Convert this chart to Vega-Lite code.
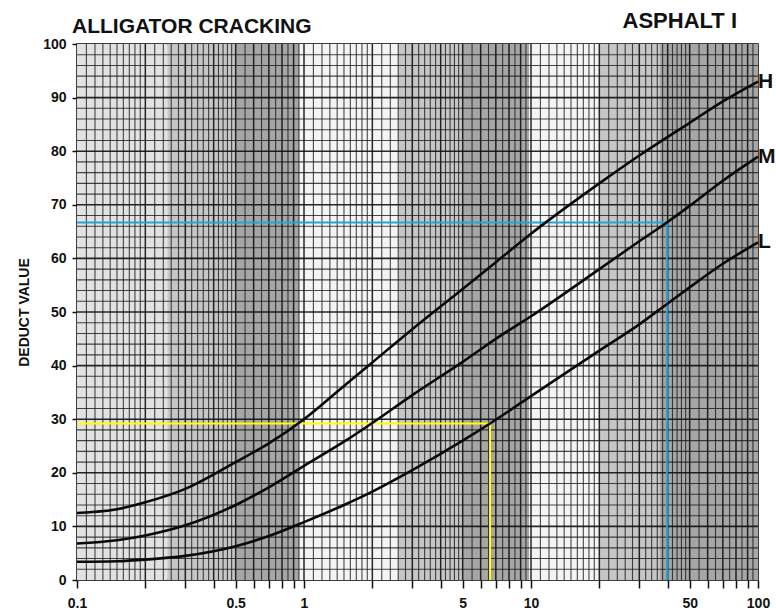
{
  "$schema": "https://vega.github.io/schema/vega-lite/v6.json",
  "width": 681,
  "height": 536,
  "autosize": {"type": "none"},
  "padding": {"left": 77, "top": 44, "right": 18, "bottom": 34},
  "background": "white",
  "config": {
    "view": {"stroke": "black", "strokeWidth": 1.5},
    "font": "Liberation Sans"
  },
  "datasets": {
    "bands": [
      {"x": 0.1, "x2": 0.25, "tone": "light"},
      {"x": 0.25, "x2": 0.5, "tone": "mid"},
      {"x": 0.5, "x2": 0.95, "tone": "dark"},
      {"x": 0.95, "x2": 2.6, "tone": "pale"},
      {"x": 2.6, "x2": 5, "tone": "mid"},
      {"x": 5, "x2": 9.8, "tone": "dark"},
      {"x": 9.8, "x2": 20, "tone": "pale"},
      {"x": 20, "x2": 37, "tone": "mid"},
      {"x": 37, "x2": 100, "tone": "dark"}
    ],
    "vminor": [
      {"v": 0.11}, {"v": 0.12}, {"v": 0.13}, {"v": 0.14}, {"v": 0.15}, {"v": 0.16}, {"v": 0.17}, {"v": 0.18}, {"v": 0.19},
      {"v": 0.22}, {"v": 0.24}, {"v": 0.26}, {"v": 0.28}, {"v": 0.32}, {"v": 0.34}, {"v": 0.36}, {"v": 0.38},
      {"v": 0.42}, {"v": 0.44}, {"v": 0.46}, {"v": 0.48}, {"v": 0.55}, {"v": 0.65}, {"v": 0.75}, {"v": 0.85}, {"v": 0.95},
      {"v": 1.1}, {"v": 1.2}, {"v": 1.3}, {"v": 1.4}, {"v": 1.5}, {"v": 1.6}, {"v": 1.7}, {"v": 1.8}, {"v": 1.9},
      {"v": 2.2}, {"v": 2.4}, {"v": 2.6}, {"v": 2.8}, {"v": 3.2}, {"v": 3.4}, {"v": 3.6}, {"v": 3.8},
      {"v": 4.2}, {"v": 4.4}, {"v": 4.6}, {"v": 4.8}, {"v": 5.5}, {"v": 6.5}, {"v": 7.5}, {"v": 8.5}, {"v": 9.5},
      {"v": 11}, {"v": 12}, {"v": 13}, {"v": 14}, {"v": 15}, {"v": 16}, {"v": 17}, {"v": 18}, {"v": 19},
      {"v": 22}, {"v": 24}, {"v": 26}, {"v": 28}, {"v": 32}, {"v": 34}, {"v": 36}, {"v": 38},
      {"v": 42}, {"v": 44}, {"v": 46}, {"v": 48}, {"v": 55}, {"v": 65}, {"v": 75}, {"v": 85}, {"v": 95}
    ],
    "vmajor": [
      {"v": 0.2}, {"v": 0.3}, {"v": 0.4}, {"v": 0.5}, {"v": 0.6}, {"v": 0.7}, {"v": 0.8}, {"v": 0.9}, {"v": 1},
      {"v": 2}, {"v": 3}, {"v": 4}, {"v": 5}, {"v": 6}, {"v": 7}, {"v": 8}, {"v": 9}, {"v": 10},
      {"v": 20}, {"v": 30}, {"v": 40}, {"v": 50}, {"v": 60}, {"v": 70}, {"v": 80}, {"v": 90}
    ],
    "hminor": [
      {"h": 2}, {"h": 4}, {"h": 6}, {"h": 8}, {"h": 12}, {"h": 14}, {"h": 16}, {"h": 18},
      {"h": 22}, {"h": 24}, {"h": 26}, {"h": 28}, {"h": 32}, {"h": 34}, {"h": 36}, {"h": 38},
      {"h": 42}, {"h": 44}, {"h": 46}, {"h": 48}, {"h": 52}, {"h": 54}, {"h": 56}, {"h": 58},
      {"h": 62}, {"h": 64}, {"h": 66}, {"h": 68}, {"h": 72}, {"h": 74}, {"h": 76}, {"h": 78},
      {"h": 82}, {"h": 84}, {"h": 86}, {"h": 88}, {"h": 92}, {"h": 94}, {"h": 96}, {"h": 98}
    ],
    "hmajor": [
      {"h": 10}, {"h": 20}, {"h": 30}, {"h": 40}, {"h": 50}, {"h": 60}, {"h": 70}, {"h": 80}, {"h": 90}
    ],
    "guides": [
      {"guide": "blue", "x": 0.1, "x2": 39.7, "y": 66.7, "y2": 66.7},
      {"guide": "blue", "x": 39.7, "x2": 39.7, "y": 0, "y2": 66.7},
      {"guide": "yellow", "x": 0.1, "x2": 6.6, "y": 29.2, "y2": 29.2},
      {"guide": "yellow", "x": 6.6, "x2": 6.6, "y": 0, "y2": 29.2}
    ],
    "curves": [
      {"curve": "H", "density": 0.1, "deduct": 12.5},
      {"curve": "H", "density": 0.15, "deduct": 13.2},
      {"curve": "H", "density": 0.2, "deduct": 14.5},
      {"curve": "H", "density": 0.3, "deduct": 17},
      {"curve": "H", "density": 0.5, "deduct": 22},
      {"curve": "H", "density": 0.7, "deduct": 25.5},
      {"curve": "H", "density": 1, "deduct": 30},
      {"curve": "H", "density": 1.5, "deduct": 36.2},
      {"curve": "H", "density": 2, "deduct": 40.6},
      {"curve": "H", "density": 3, "deduct": 46.8},
      {"curve": "H", "density": 5, "deduct": 54.3},
      {"curve": "H", "density": 7, "deduct": 59.3},
      {"curve": "H", "density": 10, "deduct": 64.6},
      {"curve": "H", "density": 20, "deduct": 74},
      {"curve": "H", "density": 30, "deduct": 79.2},
      {"curve": "H", "density": 50, "deduct": 85.3},
      {"curve": "H", "density": 70, "deduct": 89.3},
      {"curve": "H", "density": 100, "deduct": 93},
      {"curve": "M", "density": 0.1, "deduct": 6.8},
      {"curve": "M", "density": 0.15, "deduct": 7.4},
      {"curve": "M", "density": 0.2, "deduct": 8.3},
      {"curve": "M", "density": 0.3, "deduct": 10.2},
      {"curve": "M", "density": 0.5, "deduct": 14},
      {"curve": "M", "density": 0.7, "deduct": 17.3},
      {"curve": "M", "density": 1, "deduct": 21.3},
      {"curve": "M", "density": 1.5, "deduct": 25.8},
      {"curve": "M", "density": 2, "deduct": 29.3},
      {"curve": "M", "density": 3, "deduct": 34.5},
      {"curve": "M", "density": 5, "deduct": 40.7},
      {"curve": "M", "density": 7, "deduct": 45},
      {"curve": "M", "density": 10, "deduct": 49.2},
      {"curve": "M", "density": 20, "deduct": 58},
      {"curve": "M", "density": 30, "deduct": 63.2},
      {"curve": "M", "density": 39.7, "deduct": 66.7},
      {"curve": "M", "density": 50, "deduct": 69.8},
      {"curve": "M", "density": 70, "deduct": 74.5},
      {"curve": "M", "density": 100, "deduct": 79},
      {"curve": "L", "density": 0.1, "deduct": 3.4},
      {"curve": "L", "density": 0.15, "deduct": 3.5},
      {"curve": "L", "density": 0.2, "deduct": 3.8},
      {"curve": "L", "density": 0.3, "deduct": 4.5},
      {"curve": "L", "density": 0.5, "deduct": 6.3},
      {"curve": "L", "density": 0.7, "deduct": 8.2},
      {"curve": "L", "density": 1, "deduct": 10.8},
      {"curve": "L", "density": 1.5, "deduct": 14},
      {"curve": "L", "density": 2, "deduct": 16.5},
      {"curve": "L", "density": 3, "deduct": 20.5},
      {"curve": "L", "density": 5, "deduct": 26},
      {"curve": "L", "density": 6.6, "deduct": 29.2},
      {"curve": "L", "density": 10, "deduct": 34.3},
      {"curve": "L", "density": 20, "deduct": 42.8},
      {"curve": "L", "density": 30, "deduct": 47.7},
      {"curve": "L", "density": 40, "deduct": 51.6},
      {"curve": "L", "density": 50, "deduct": 54.6},
      {"curve": "L", "density": 70, "deduct": 59},
      {"curve": "L", "density": 100, "deduct": 63}
    ],
    "endlabels": [
      {"curve": "H", "density": 100, "deduct": 93},
      {"curve": "M", "density": 100, "deduct": 79},
      {"curve": "L", "density": 100, "deduct": 63}
    ],
    "headers": [
      {"label": "ALLIGATOR CRACKING", "density": 0.1, "deduct": 100, "side": "left"},
      {"label": "ASPHALT I", "density": 100, "deduct": 100, "side": "right"}
    ]
  },
  "layer": [
    {
      "data": {"name": "bands"},
      "mark": {"type": "rect"},
      "encoding": {
        "x": {"field": "x", "type": "quantitative"},
        "x2": {"field": "x2"},
        "fill": {"field": "tone", "type": "nominal", "scale": {"domain": ["pale", "light", "mid", "dark"], "range": ["#f4f4f4", "#e2e2e2", "#c6c6c6", "#a6a6a6"]}, "legend": null}
      }
    },
    {
      "data": {"name": "vminor"},
      "mark": {"type": "rule", "color": "#1a1a1a", "strokeWidth": 1.1, "opacity": 0.8},
      "encoding": {"x": {"field": "v", "type": "quantitative"}}
    },
    {
      "data": {"name": "vmajor"},
      "mark": {"type": "rule", "color": "#111", "strokeWidth": 1.5, "opacity": 0.9},
      "encoding": {"x": {"field": "v", "type": "quantitative"}}
    },
    {
      "data": {"name": "hminor"},
      "mark": {"type": "rule", "color": "#1a1a1a", "strokeWidth": 1.1, "opacity": 0.8},
      "encoding": {"y": {"field": "h", "type": "quantitative"}}
    },
    {
      "data": {"name": "hmajor"},
      "mark": {"type": "rule", "color": "#111", "strokeWidth": 1.6, "opacity": 0.9},
      "encoding": {"y": {"field": "h", "type": "quantitative"}}
    },
    {
      "data": {"name": "guides"},
      "mark": {"type": "rule", "strokeWidth": 2},
      "encoding": {
        "x": {"field": "x", "type": "quantitative"},
        "x2": {"field": "x2"},
        "y": {"field": "y", "type": "quantitative"},
        "y2": {"field": "y2"},
        "stroke": {"field": "guide", "type": "nominal", "scale": {"domain": ["blue", "yellow"], "range": ["#22a4da", "#ffff00"]}, "legend": null}
      }
    },
    {
      "data": {"name": "curves"},
      "mark": {"type": "line", "color": "#0a0a0a", "strokeWidth": 2.6, "interpolate": "monotone"},
      "encoding": {
        "x": {
          "field": "density", "type": "quantitative",
          "scale": {"type": "log", "domain": [0.1, 100]},
          "axis": {
            "title": null,
            "values": [0.1, 0.2, 0.3, 0.4, 0.5, 0.6, 0.7, 0.8, 0.9, 1, 2, 3, 4, 5, 6, 7, 8, 9, 10, 20, 30, 40, 50, 60, 70, 80, 90, 100],
            "format": "~g",
            "labelExpr": "indexof([0.1, 0.5, 1, 5, 10, 50, 100], datum.value) >= 0 ? datum.label : ''",
            "labelOverlap": false,
            "labelFlush": false,
            "domain": false,
            "grid": false,
            "tickSize": 8,
            "tickWidth": 1.5,
            "tickColor": "#111",
            "labelPadding": 8,
            "labelFont": "Liberation Sans",
            "labelFontWeight": "bold",
            "labelFontSize": 14,
            "labelColor": "#111"
          }
        },
        "y": {
          "field": "deduct", "type": "quantitative",
          "scale": {"domain": [0, 100], "nice": false},
          "axis": {
            "title": "DEDUCT VALUE",
            "values": [0, 10, 20, 30, 40, 50, 60, 70, 80, 90, 100],
            "domain": false,
            "grid": false,
            "tickSize": 5,
            "tickWidth": 1.5,
            "tickColor": "#111",
            "labelPadding": 6,
            "labelFont": "Liberation Sans",
            "labelFontWeight": "bold",
            "labelFontSize": 14,
            "labelColor": "#111",
            "titleFont": "Liberation Sans",
            "titleFontWeight": "bold",
            "titleFontSize": 14,
            "titleColor": "#111",
            "titlePadding": 11
          }
        },
        "detail": {"field": "curve", "type": "nominal"}
      }
    },
    {
      "data": {"name": "endlabels"},
      "mark": {"type": "text", "align": "left", "baseline": "middle", "dx": 0, "font": "Liberation Sans", "fontWeight": "bold", "fontSize": 21, "color": "#111"},
      "encoding": {
        "x": {"field": "density", "type": "quantitative"},
        "y": {"field": "deduct", "type": "quantitative"},
        "text": {"field": "curve", "type": "nominal"}
      }
    },
    {
      "data": {"name": "headers"},
      "transform": [{"filter": "datum.side == 'left'"}],
      "mark": {"type": "text", "align": "left", "baseline": "alphabetic", "dx": -5, "dy": -11, "font": "Liberation Sans", "fontWeight": "bold", "fontSize": 21, "color": "#111"},
      "encoding": {
        "x": {"field": "density", "type": "quantitative"},
        "y": {"field": "deduct", "type": "quantitative"},
        "text": {"field": "label", "type": "nominal"}
      }
    },
    {
      "data": {"name": "headers"},
      "transform": [{"filter": "datum.side == 'right'"}],
      "mark": {"type": "text", "align": "right", "baseline": "alphabetic", "dx": -21, "dy": -16, "font": "Liberation Sans", "fontWeight": "bold", "fontSize": 22, "color": "#111"},
      "encoding": {
        "x": {"field": "density", "type": "quantitative"},
        "y": {"field": "deduct", "type": "quantitative"},
        "text": {"field": "label", "type": "nominal"}
      }
    }
  ]
}
